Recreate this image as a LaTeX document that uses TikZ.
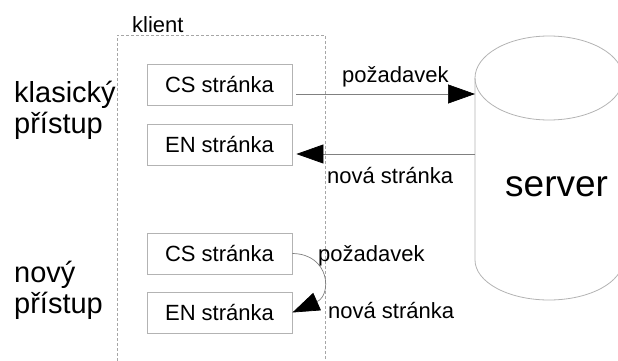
\documentclass[tikz,border=0pt]{standalone}
\usepackage{fontspec}
\setmainfont{Liberation Sans}
\usetikzlibrary{arrows.meta,positioning,calc}
\definecolor{fbox}{HTML}{B3B3B3}
\definecolor{fline}{HTML}{808080}
\definecolor{fdash}{HTML}{A6A6A6}
\tikzset{
  page/.style={draw=fbox, line width=0.8pt, minimum width=145pt, minimum height=41pt,
    inner sep=0pt, font=\fontsize{22}{26}\selectfont},
  msg/.style={fline, line width=0.7pt, -{Triangle[length=27pt, width=19pt, black]}},
  lbl/.style={anchor=base west, inner sep=0pt, font=\fontsize{22}{26}\selectfont},
  big/.style={anchor=base west, inner sep=0pt, font=\fontsize{29}{33}\selectfont}
}
\begin{document}
\begin{tikzpicture}[x=1pt, y=-1pt]
\useasboundingbox (0,0) rectangle (618,361);
% client frame (open at the bottom)
\draw[fdash, line width=0.7pt, dash pattern=on 3pt off 2pt] (117,361) -- (117,35) -- (325,35) -- (325,361);
\node[lbl] (klient) at (132,33) {klient};
% approach labels
\node[big] (klas) at (14,102) {klasický};
\node[big] (pr1) at (14,133) {přístup};
\node[big] (novy) at (14,282) {nový};
\node[big] (pr2) at (14,313) {přístup};
% server cylinder
\draw[fbox, line width=0.8pt] (475,78) -- (475,260) arc[start angle=180, end angle=0, x radius=74, y radius=40]
   -- (623,78);
\draw[fbox, line width=0.8pt] (549,78) ellipse[x radius=74, y radius=42];
\coordinate (srvL) at (475,78);
\node[anchor=base west, inner sep=0pt, font=\fontsize{37}{42}\selectfont] (server) at (505,196) {server};
% pages
\node[page] (cs1) at (219.5,85) {CS stránka};
\node[page] (en1) at (219.5,145) {EN stránka};
\node[page] (cs2) at (219.5,253.5) {CS stránka};
\node[page] (en2) at (219.5,312.5) {EN stránka};
% classic: request and new page from the server
\coordinate (rq) at ([xshift=4pt, yshift=-9pt]cs1.east);
\coordinate (np) at ([xshift=4pt, yshift=-9pt]en1.east);
\draw[msg] (rq) -- (rq -| srvL);
\draw[msg] (np -| srvL) -- (np);
\node[lbl] (rq1) at (342,82) {požadavek};
\node[lbl] (np1) at (327,183) {nová stránka};
% new: page switched on the client
\draw[msg] (cs2.east) .. controls (330,254) and (332,295) .. (en2.east);
\node[lbl] (rq2) at (318,261) {požadavek};
\node[lbl] (np2) at (328,318) {nová stránka};
\end{tikzpicture}
\end{document}
